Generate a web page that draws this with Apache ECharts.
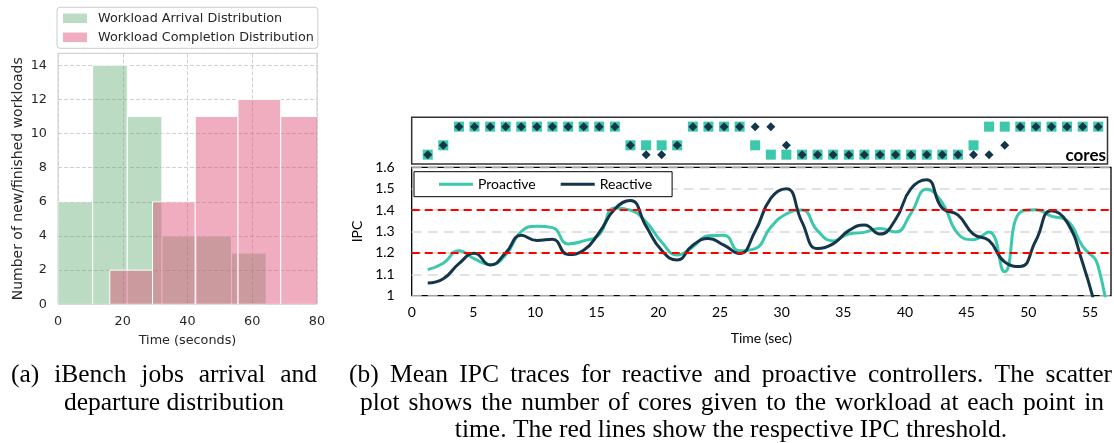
<!DOCTYPE html>
<html>
<head>
<meta charset="utf-8">
<title>iBench distribution and IPC traces</title>
<script src="https://cdn.jsdelivr.net/npm/echarts@6.0.0/dist/echarts.min.js"></script>
<style>
html, body { margin: 0; padding: 0; background: #ffffff; }
#chart { width: 1114px; height: 443px; }
</style>
</head>
<body>
<div id="chart"></div>
<script>
// ---------------- data ----------------
// (a) histogram bins: edges (seconds) and counts
const arrivalEdges = [0, 10.7, 21.4, 32.1, 42.8, 53.6, 64.3];
const arrivalCounts = [6, 14, 11, 4, 4, 3];
const completionEdges = [16, 29.2, 42.4, 55.6, 68.8, 82];
const completionCounts = [2, 6, 11, 12, 11];

// (b) sample times (sec)
const timeSec = [1.30, 2.56, 3.83, 5.09, 6.36, 7.62, 8.88, 10.15, 11.41, 12.68,
  13.94, 15.20, 16.47, 17.73, 19.00, 20.26, 21.52, 22.79, 24.05, 25.32,
  26.58, 27.84, 29.11, 30.37, 31.64, 32.90, 34.16, 35.43, 36.69, 37.96,
  39.22, 40.48, 41.75, 43.01, 44.28, 45.54, 46.80, 48.07, 49.33, 50.60,
  51.86, 53.12, 54.39, 55.65, 56.91];
const proactiveIPC = [1.122, 1.152, 1.210, 1.172, 1.145, 1.190, 1.300, 1.324, 1.318, 1.242,
  1.256, 1.285, 1.410, 1.400, 1.345, 1.251, 1.190, 1.228, 1.280, 1.283,
  1.210, 1.220, 1.320, 1.382, 1.400, 1.304, 1.256, 1.288, 1.296, 1.314,
  1.298, 1.385, 1.497, 1.435, 1.290, 1.262, 1.298, 1.112, 1.389, 1.402,
  1.372, 1.352, 1.232, 1.140, 0.700];
const reactiveIPC = [1.059, 1.079, 1.150, 1.198, 1.143, 1.200, 1.282, 1.258, 1.264, 1.192,
  1.212, 1.295, 1.405, 1.445, 1.325, 1.212, 1.167, 1.236, 1.267, 1.236,
  1.197, 1.300, 1.455, 1.500, 1.345, 1.220, 1.242, 1.304, 1.330, 1.288,
  1.355, 1.500, 1.542, 1.410, 1.378, 1.288, 1.258, 1.158, 1.136, 1.257,
  1.397, 1.345, 1.155, 0.900, 0.600];
// cores given to the workload at each of the first 44 sample times
const proactiveCores = [1, 2, 4, 4, 4, 4, 4, 4, 4, 4, 4, 4, 4, 2, 2, 2, 2, 4, 4, 4, 4, 2,
  1, 1, 1, 1, 1, 1, 1, 1, 1, 1, 1, 1, 1, 2, 4, 4, 4, 4, 4, 4, 4, 4];
const reactiveCores = [1, 2, 4, 4, 4, 4, 4, 4, 4, 4, 4, 4, 4, 2, 1, 1, 2, 4, 4, 4, 4, 4,
  4, 2, 1, 1, 1, 1, 1, 1, 1, 1, 1, 1, 1, 1, 1, 2, 4, 4, 4, 4, 4, 4];
const ipcThresholds = [1.2, 1.4];

const captionA = ['(a) iBench jobs arrival and', 'departure distribution'];
const captionB = ['(b) Mean IPC traces for reactive and proactive controllers. The scatter',
  'plot shows the number of cores given to the workload at each point in',
  'time. The red lines show the respective IPC threshold.'];

// ---------------- helpers ----------------
const bins = (edges, counts) => counts.map((c, i) => [edges[i], edges[i + 1], c]);
const pairs = (xs, ys) => ys.map((y, i) => [xs[i], y]);

const GREEN = 'rgba(85,168,104,0.40)';
const PINK = 'rgba(222,73,115,0.45)';
const TEAL = '#3cc8aa';
const NAVY = '#15354a';
const MPL_FONT = 'DejaVu Sans';
const XL_FONT = 'Lato';
const CAP_FONT = 'Liberation Serif';
const CAP_SIZE = 25.5;

function histRender(params, api) {
  const lo = api.value(0), hi = api.value(1), h = api.value(2);
  const p0 = api.coord([lo, 0]);
  const p1 = api.coord([hi, h]);
  return {
    type: 'rect',
    shape: { x: p0[0], y: p1[1], width: p1[0] - p0[0], height: p0[1] - p1[1] },
    style: { fill: api.visual('color'), stroke: '#ffffff', lineWidth: 1 }
  };
}

const mctx = document.createElement('canvas').getContext('2d');
function capText(text, x, y, align) {
  return { type: 'text', x: x, y: y, silent: true,
    style: { text: text, fontFamily: CAP_FONT, fontSize: CAP_SIZE, fill: '#000',
      align: align, verticalAlign: 'middle' } };
}
function justified(text, x0, x1, y) {
  mctx.font = CAP_SIZE + 'px "' + CAP_FONT + '"';
  const words = text.split(' ');
  const w = words.map(s => mctx.measureText(s).width);
  const tot = w.reduce((a, b) => a + b, 0);
  const gap = (x1 - x0 - tot) / (words.length - 1);
  const out = [];
  let x = x0;
  words.forEach((s, i) => { out.push(capText(s, x, y, 'left')); x += w[i] + gap; });
  return out;
}

const graphics = [].concat(
  justified(captionA[0], 11, 317, 375),
  [capText(captionA[1], 174, 403, 'center')],
  justified(captionB[0], 349, 1112, 375),
  justified(captionB[1], 360, 1104, 403),
  [capText(captionB[2], 731, 430, 'center')],
  [{ type: 'text', x: 1106, y: 156, silent: true,
     style: { text: 'cores', fontFamily: XL_FONT, fontWeight: 'bold', fontSize: 17,
       fill: '#000', align: 'right', verticalAlign: 'middle' } }]
);

const chart = echarts.init(document.getElementById('chart'), null, { renderer: 'canvas' });
chart.setOption({
  animation: false,
  backgroundColor: '#ffffff',
  textStyle: { fontFamily: XL_FONT },
  grid: [
    { left: 58, right: 797, top: 53.3, bottom: 138.7, show: true, borderColor: '#cccccc', borderWidth: 1, backgroundColor: '#ffffff' },
    { left: 411.7, right: 6.5, top: 117.3, bottom: 279, show: true, borderColor: '#333333', borderWidth: 1.5 },
    { left: 411.7, right: 3, top: 167.3, bottom: 147.3, show: true, borderColor: '#000000', borderWidth: 1.3 }
  ],
  legend: [
    { data: ['Workload Arrival Distribution', 'Workload Completion Distribution'],
      orient: 'vertical', left: 57, top: 7.3, padding: [3.5, 4, 3.5, 6],
      icon: 'rect', itemWidth: 24, itemHeight: 9.5, itemGap: 4,
      borderColor: '#cccccc', borderWidth: 1, borderRadius: 3, backgroundColor: '#ffffff',
      textStyle: { fontFamily: MPL_FONT, fontSize: 12.8, color: '#262626', lineHeight: 15, padding: [0, 0, 0, 6] } },
    { data: ['Proactive', 'Reactive'],
      orient: 'horizontal', left: 414, top: 171.7, padding: [4, 20, 4, 25],
      icon: 'rect', itemWidth: 34, itemHeight: 3, itemGap: 25,
      borderColor: '#000000', borderWidth: 1, backgroundColor: '#ffffff',
      textStyle: { fontFamily: XL_FONT, fontSize: 14, color: '#000000', lineHeight: 17 } }
  ],
  xAxis: [
    { gridIndex: 0, type: 'value', min: 0, max: 80, interval: 20,
      axisLine: { show: false }, axisTick: { show: false },
      splitLine: { show: true, lineStyle: { color: '#d0d0d0', width: 1, type: [4, 2] } },
      axisLabel: { fontFamily: MPL_FONT, fontSize: 12.8, color: '#262626', margin: 11 },
      name: 'Time (seconds)', nameLocation: 'middle', nameGap: 30,
      nameTextStyle: { fontFamily: MPL_FONT, fontSize: 12.8, color: '#262626' } },
    { gridIndex: 1, type: 'value', min: 0, max: 56.4, show: false },
    { gridIndex: 2, type: 'value', min: 0, max: 56.7, interval: 5,
      axisLine: { show: false }, axisTick: { show: false }, splitLine: { show: false },
      axisLabel: { fontFamily: XL_FONT, fontSize: 14, color: '#000', margin: 10, showMaxLabel: false },
      name: 'Time (sec)', nameLocation: 'middle', nameGap: 36,
      nameTextStyle: { fontFamily: XL_FONT, fontSize: 14, color: '#000' } }
  ],
  yAxis: [
    { gridIndex: 0, type: 'value', min: 0, max: 14.7, interval: 2,
      axisLine: { show: false }, axisTick: { show: false },
      splitLine: { show: true, lineStyle: { color: '#d0d0d0', width: 1, type: [4, 2] } },
      axisLabel: { fontFamily: MPL_FONT, fontSize: 12.8, color: '#262626', margin: 11, showMaxLabel: false },
      name: 'Number of new/finished workloads', nameLocation: 'middle', nameGap: 33, nameRotate: 90,
      nameTextStyle: { fontFamily: MPL_FONT, fontSize: 14, color: '#262626' } },
    { gridIndex: 1, type: 'value', min: 0, max: 5, show: false },
    { gridIndex: 2, type: 'value', min: 1, max: 1.6, interval: 0.1,
      axisLine: { show: false }, axisTick: { show: false },
      splitLine: { show: true, lineStyle: { color: '#d9d9d9', width: 1.5, type: [10, 6] } },
      axisLabel: { fontFamily: XL_FONT, fontSize: 14, color: '#000', margin: 17 },
      name: 'IPC', nameLocation: 'middle', nameGap: 33, nameRotate: 90,
      nameTextStyle: { fontFamily: XL_FONT, fontSize: 14, color: '#000' } }
  ],
  series: [
    { name: 'Workload Arrival Distribution', type: 'custom', xAxisIndex: 0, yAxisIndex: 0,
      renderItem: histRender, clip: true, itemStyle: { color: GREEN },
      encode: { x: [0, 1], y: 2 }, data: bins(arrivalEdges, arrivalCounts), z: 2 },
    { name: 'Workload Completion Distribution', type: 'custom', xAxisIndex: 0, yAxisIndex: 0,
      renderItem: histRender, clip: true, itemStyle: { color: PINK },
      encode: { x: [0, 1], y: 2 }, data: bins(completionEdges, completionCounts), z: 3 },
    { name: 'Proactive cores', type: 'scatter', xAxisIndex: 1, yAxisIndex: 1,
      symbol: 'rect', symbolSize: 10, itemStyle: { color: TEAL, opacity: 1 },
      data: pairs(timeSec, proactiveCores), z: 2 },
    { name: 'Reactive cores', type: 'scatter', xAxisIndex: 1, yAxisIndex: 1,
      symbol: 'diamond', symbolSize: 9, itemStyle: { color: NAVY, opacity: 1 },
      data: pairs(timeSec, reactiveCores), z: 3 },
    { name: 'thresholds', type: 'line', xAxisIndex: 2, yAxisIndex: 2, data: [], z: 1,
      markLine: { silent: true, symbol: ['none', 'none'], label: { show: false },
        lineStyle: { color: '#ff0000', width: 2, type: [8, 5] },
        data: ipcThresholds.map(v => ({ yAxis: v })) } },
    { name: 'Proactive', type: 'line', xAxisIndex: 2, yAxisIndex: 2, color: TEAL,
      smooth: 0.5, showSymbol: false, symbol: 'none', clip: true,
      lineStyle: { color: TEAL, width: 3 }, itemStyle: { color: TEAL },
      data: pairs(timeSec, proactiveIPC), z: 3 },
    { name: 'Reactive', type: 'line', xAxisIndex: 2, yAxisIndex: 2, color: NAVY,
      smooth: 0.5, showSymbol: false, symbol: 'none', clip: true,
      lineStyle: { color: NAVY, width: 3 }, itemStyle: { color: NAVY },
      data: pairs(timeSec, reactiveIPC), z: 4 }
  ],
  graphic: graphics
});
</script>
</body>
</html>
